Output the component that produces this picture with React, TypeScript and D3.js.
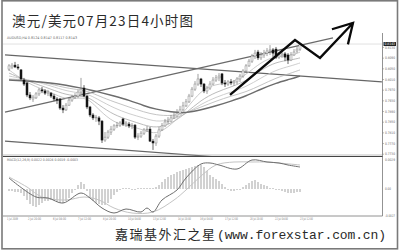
import React from "react";
import * as d3 from "d3";

// AUD/USD 4-hour candles
const opens = [
  0.8049, 0.8057, 0.8064, 0.8057, 0.8046, 0.8008, 0.7997, 0.7952, 0.7937, 0.7941,
  0.7956, 0.7971, 0.7967, 0.7959, 0.7959, 0.7948, 0.7937, 0.7937, 0.7903, 0.7896,
  0.7914, 0.7933, 0.7944, 0.7948, 0.7963, 0.7978, 0.7948, 0.7907, 0.7877, 0.7866,
  0.7866, 0.7854, 0.7783, 0.7794, 0.7813, 0.7824, 0.7836, 0.7839, 0.7862, 0.7843,
  0.7843, 0.7836, 0.7839, 0.7794, 0.7798, 0.7809, 0.7821, 0.7824, 0.7779, 0.7772,
  0.7798, 0.7821, 0.7836, 0.7851, 0.7854, 0.7866, 0.7873, 0.7884, 0.7896, 0.7911,
  0.7926, 0.7948, 0.7974, 0.7993, 0.8012, 0.7993, 0.7967, 0.7978, 0.7993, 0.8008,
  0.8016, 0.8031, 0.7997, 0.7993, 0.8001, 0.7997, 0.8001, 0.8012, 0.8023, 0.8042,
  0.8061, 0.8079, 0.8098, 0.8113, 0.8091, 0.8102, 0.8109, 0.8117, 0.8121, 0.8124,
  0.8094, 0.8102, 0.8106, 0.8102, 0.8083, 0.8102, 0.8117, 0.8124,
];
const highs = [
  0.8068, 0.8072, 0.8076, 0.8068, 0.8049, 0.8016, 0.8001, 0.7963, 0.7952, 0.7963,
  0.7978, 0.7982, 0.7974, 0.7971, 0.7963, 0.7956, 0.7944, 0.7941, 0.7914, 0.7922,
  0.7944, 0.7952, 0.7959, 0.7971, 0.8016, 0.7989, 0.7952, 0.7911, 0.7884, 0.7877,
  0.7873, 0.7858, 0.7813, 0.7821, 0.7836, 0.7843, 0.7851, 0.7854, 0.7866, 0.7854,
  0.7851, 0.7847, 0.7843, 0.7809, 0.7817, 0.7828, 0.7836, 0.7832, 0.7787, 0.7806,
  0.7832, 0.7847, 0.7862, 0.7869, 0.7877, 0.7888, 0.7899, 0.7911, 0.7926, 0.7937,
  0.7956, 0.7982, 0.8004, 0.8031, 0.8016, 0.7997, 0.7986, 0.8004, 0.8019, 0.8027,
  0.8034, 0.8034, 0.8008, 0.8008, 0.8012, 0.8008, 0.8019, 0.8031, 0.8049, 0.8068,
  0.8087, 0.8106, 0.8121, 0.8121, 0.8113, 0.8121, 0.8128, 0.8139, 0.8128, 0.8132,
  0.8113, 0.8117, 0.8113, 0.8109, 0.8113, 0.8124, 0.8136, 0.8147,
];
const lows = [
  0.8042, 0.8049, 0.8053, 0.8046, 0.8008, 0.7986, 0.7944, 0.7933, 0.7926, 0.7937,
  0.7948, 0.7959, 0.7952, 0.7948, 0.7941, 0.7929, 0.7918, 0.7896, 0.7884, 0.7892,
  0.7911, 0.7926, 0.7937, 0.7941, 0.7956, 0.7944, 0.7899, 0.7869, 0.7858, 0.7851,
  0.7839, 0.7772, 0.7776, 0.7787, 0.7802, 0.7817, 0.7828, 0.7832, 0.7836, 0.7832,
  0.7828, 0.7824, 0.7787, 0.7783, 0.7791, 0.7802, 0.7813, 0.7776, 0.7746, 0.7761,
  0.7791, 0.7817, 0.7832, 0.7843, 0.7851, 0.7862, 0.7869, 0.7881, 0.7892, 0.7907,
  0.7922, 0.7944, 0.7967, 0.7986, 0.7982, 0.7959, 0.7956, 0.7971, 0.7989, 0.8001,
  0.8004, 0.7989, 0.7982, 0.7986, 0.7989, 0.7986, 0.7993, 0.8001, 0.8016, 0.8034,
  0.8057, 0.8072, 0.8087, 0.8083, 0.8083, 0.8091, 0.8098, 0.8102, 0.8094, 0.8087,
  0.8087, 0.8091, 0.8079, 0.8068, 0.8079, 0.8098, 0.8109, 0.8117,
];
const closes = [
  0.8061, 0.8064, 0.8057, 0.8053, 0.8012, 0.7993, 0.7952, 0.7941, 0.7944, 0.7956,
  0.7971, 0.7967, 0.7959, 0.7963, 0.7948, 0.7937, 0.7933, 0.7903, 0.7896, 0.7914,
  0.7933, 0.7944, 0.7948, 0.7963, 0.7974, 0.7948, 0.7907, 0.7877, 0.7866, 0.7869,
  0.7854, 0.7783, 0.7794, 0.7813, 0.7824, 0.7836, 0.7839, 0.7847, 0.7843, 0.7847,
  0.7836, 0.7839, 0.7794, 0.7798, 0.7809, 0.7821, 0.7824, 0.7779, 0.7772, 0.7798,
  0.7821, 0.7836, 0.7851, 0.7854, 0.7866, 0.7873, 0.7884, 0.7896, 0.7911, 0.7926,
  0.7948, 0.7974, 0.7993, 0.8012, 0.7993, 0.7967, 0.7978, 0.7993, 0.8008, 0.8016,
  0.8023, 0.7997, 0.7993, 0.8001, 0.7997, 0.8001, 0.8012, 0.8023, 0.8042, 0.8061,
  0.8079, 0.8098, 0.8109, 0.8091, 0.8102, 0.8109, 0.8117, 0.8121, 0.8109, 0.8094,
  0.8102, 0.8106, 0.8094, 0.8083, 0.8102, 0.8113, 0.8124, 0.8143,
];

// moving-average ribbon, sampled at candle indices
const maIndex = [0, 7, 14, 19, 24, 27, 30, 35, 40, 45, 49, 54, 59, 64, 69, 74, 79, 84, 89, 94, 97];
const maFast = [0.8046, 0.7989, 0.7963, 0.7933, 0.7944, 0.7933, 0.7896, 0.7847, 0.7836, 0.7821, 0.7802, 0.7839, 0.7896, 0.7971, 0.7993, 0.7997, 0.8027, 0.8076, 0.8098, 0.8098, 0.8113];
const maMid1 = [0.8034, 0.8001, 0.7974, 0.7952, 0.7948, 0.7941, 0.7914, 0.7877, 0.7858, 0.7839, 0.7828, 0.7843, 0.7884, 0.7933, 0.7963, 0.7982, 0.8004, 0.8046, 0.8076, 0.8083, 0.8091];
const maMid2 = [0.8023, 0.8008, 0.7986, 0.7967, 0.7959, 0.7952, 0.7933, 0.7903, 0.7881, 0.7866, 0.7851, 0.7858, 0.7881, 0.7918, 0.7944, 0.7963, 0.7982, 0.8016, 0.8046, 0.8061, 0.8072];
const maSlow = [0.8012, 0.8008, 0.7993, 0.7978, 0.7971, 0.7963, 0.7948, 0.7926, 0.7907, 0.7888, 0.7877, 0.7873, 0.7884, 0.7907, 0.7929, 0.7948, 0.7963, 0.7989, 0.8016, 0.8034, 0.8046];
const maLong = [0.8008, 0.8004, 0.7997, 0.7989, 0.7978, 0.7971, 0.7963, 0.7948, 0.7933, 0.7911, 0.7899, 0.7888, 0.7884, 0.7896, 0.7911, 0.7929, 0.7948, 0.7974, 0.7997, 0.8012, 0.8023];

// drawn trend lines: [candle index, price]
const upperChannel = [[-1.33, 0.8102], [124.3, 0.8001]];
const lowerChannel = [[-1.33, 0.7779], [70, 0.7719]];
const risingLine = [[-1.33, 0.7888], [108, 0.8166]];
const arrowPath = [[73.67, 0.7952], [95.33, 0.8158], [103.67, 0.8091], [114.67, 0.8222]];

// MACD(12,26,9)
const macdHist = [
  -0.0002, -0.0002, -0.0003, -0.0003, -0.0004, -0.0007, -0.0011, -0.0015, -0.0017, -0.0018,
  -0.0016, -0.0014, -0.0012, -0.0012, -0.0011, -0.0012, -0.0013, -0.0014, -0.0014, -0.0012,
  -0.0009, -0.0004, -0.0001, 0.0004, 0.0007, 0.0005, -0.0002, -0.0008, -0.0012, -0.0014,
  -0.0015, -0.0016, -0.0016, -0.0014, -0.001, -0.0006, -0.0003, -0.0001, 0.0001, 0.0001,
  0.0001, -0.0001, -0.0001, 0.0001, 0.0001, 0.0001, 0.0001, 0.0001, 0.0001, 0.0002,
  0.0004, 0.0007, 0.001, 0.0012, 0.0014, 0.0015, 0.0017, 0.0018, 0.0019, 0.002,
  0.0021, 0.0022, 0.0023, 0.0024, 0.0024, 0.0022, 0.0018, 0.0014, 0.0012, 0.001,
  0.0008, 0.0005, 0.0002, -0.0001, -0.0002, -0.0002, -0.0001, -0.0001, 0.0002, 0.0004,
  0.0006, 0.0008, 0.0009, 0.0007, 0.0005, 0.0004, 0.0003, 0.0001, 0.0001, -0.0001,
  -0.0001, -0.0002, -0.0003, -0.0004, -0.0004, -0.0004, -0.0003, -0.0003,
];
const macdIndex = [0, 9, 13, 18, 24, 27, 31, 35, 39, 44, 46, 48, 51, 56, 59, 64, 67, 70, 76, 81, 86, 90, 93, 97];
const macdMain = [0.0011, -0.0008, -0.0009, -0.0014, -0.0004, -0.0009, -0.0019, -0.0024, -0.002, -0.0023, -0.0019, -0.0023, -0.0011, -0.0001, 0.0011, 0.0025, 0.0026, 0.0024, 0.002, 0.0029, 0.0027, 0.0026, 0.0024, 0.0022];
const signalIndex = [0, 6, 11, 19, 25, 30, 35, 41, 48, 55, 59, 64, 69, 75, 81, 86, 90, 97];
const macdSignal = [0.0012, 0.0002, -0.0008, -0.0011, -0.0008, -0.0011, -0.0019, -0.0024, -0.0023, -0.0011, -0.0001, 0.0013, 0.0024, 0.0027, 0.0027, 0.0027, 0.0026, 0.0024];

const priceTicks = [0.813, 0.809, 0.805, 0.801, 0.797, 0.793, 0.789, 0.785, 0.781, 0.777, 0.773];
const macdTicks = [0.0029, 0, -0.0027];
const timeLabels = [
  "1 Jul 2009", "2 Jul 20:00", "6 Jul 04:00", "7 Jul 12:00", "8 Jul 20:00", "10 Jul 04:00",
  "13 Jul 12:00", "14 Jul 20:00", "16 Jul 04:00", "17 Jul 12:00", "20 Jul 20:00", "22 Jul 04:00", "23 Jul 12:00",
];
const timeLabelIndex = [-0.67, 6.33, 14.67, 23, 31.33, 39.67, 48, 56.33, 63.67, 72, 80.33, 88.67, 97];

const TINY = "DejaVu Sans, sans-serif";
const CJK = "'Noto Sans CJK SC', sans-serif";

export default function App() {
  const x = d3.scaleLinear().domain([0, 97]).range([9, 300]);
  const y = d3.scaleLinear().domain([0.773, 0.813]).range([154.2, 47.5]);
  const ym = d3.scaleLinear().domain([-0.0027, 0.0029]).range([216, 160]);

  const ma = (vals: number[]) =>
    d3.line<number>().x((_, k) => x(maIndex[k])).y((v) => y(v)).curve(d3.curveBasis)(vals) || "";
  const seg = (pts: number[][]) =>
    d3.line<number[]>().x((p) => x(p[0])).y((p) => y(p[1]))(pts) || "";
  const mLine = (idx: number[], vals: number[]) =>
    d3.line<number>().x((_, k) => x(idx[k])).y((v) => ym(v)).curve(d3.curveCatmullRom)(vals) || "";

  // arrow head from the last leg of the arrow path
  const n = arrowPath.length;
  const tx = x(arrowPath[n - 1][0]), ty = y(arrowPath[n - 1][1]);
  const px = x(arrowPath[n - 2][0]), py = y(arrowPath[n - 2][1]);
  const ang = Math.atan2(py - ty, px - tx);
  const headLen = 22, spread = Math.PI / 6;
  const h1 = [tx + headLen * Math.cos(ang + spread), ty + headLen * Math.sin(ang + spread)];
  const h2 = [tx + headLen * Math.cos(ang - spread), ty + headLen * Math.sin(ang - spread)];

  const axisX = 382.5;

  return (
    <div style={{ position: "fixed", left: 0, top: 0 }}>
      <svg width={400} height={252} style={{ display: "block", background: "#fff" }}>
        <defs>
          <clipPath id="pricePane">
            <rect x={3} y={28} width={axisX - 3} height={156 - 28} />
          </clipPath>
        </defs>

        {/* title */}
        <text x={12} y={26} fontFamily={CJK} fontSize={13.5} fill="#2a2a2a"
          textLength={181} lengthAdjust="spacing">澳元/美元07月23日4小时图</text>

        {/* chart header */}
        <text x={7} y={38.5} fontFamily={TINY} fontSize={3.6} fill="#666"
          textLength={70} lengthAdjust="spacingAndGlyphs">AUDUSD,H4  0.8124 0.8147 0.8117 0.8143</text>

        {/* bid line */}
        <line x1={3} x2={axisX} y1={y(closes[closes.length - 1])} y2={y(closes[closes.length - 1])}
          stroke="#d4d4d4" strokeWidth={0.7} />

        <g clipPath="url(#pricePane)">
          {/* trend channel */}
          <path d={seg(upperChannel)} stroke="#666" strokeWidth={1.2} fill="none" />
          <path d={seg(lowerChannel)} stroke="#666" strokeWidth={1.2} fill="none" />
          <path d={seg(risingLine)} stroke="#6a6a6a" strokeWidth={1.2} fill="none" />

          {/* moving averages */}
          <path d={ma(maSlow)} stroke="#b5b5b5" strokeWidth={0.8} fill="none" />
          <path d={ma(maMid2)} stroke="#c2c2c2" strokeWidth={0.8} fill="none" />
          <path d={ma(maMid1)} stroke="#a9a9a9" strokeWidth={0.8} fill="none" />
          <path d={ma(maFast)} stroke="#bdbdbd" strokeWidth={0.8} fill="none" />
          <path d={ma(maLong)} stroke="#6c6c6c" strokeWidth={1.4} fill="none" />

          {/* candles */}
          {closes.map((c, i) => {
            const o = opens[i];
            const bull = c >= o;
            const top = y(Math.max(o, c));
            const bot = y(Math.min(o, c));
            const cx = x(i);
            return (
              <g key={i}>
                <line x1={cx} x2={cx} y1={y(highs[i])} y2={y(lows[i])} stroke={bull ? "#777" : "#222"} strokeWidth={0.7} />
                <rect x={cx - 1} y={top} width={2} height={Math.max(0.8, bot - top)}
                  fill={bull ? "#f4f4f4" : "#151515"} stroke={bull ? "#888" : "#151515"} strokeWidth={0.5} />
              </g>
            );
          })}
        </g>

        {/* hand-drawn arrow */}
        <path d={seg(arrowPath)} stroke="#0a0a0a" strokeWidth={2.3} fill="none" strokeLinejoin="miter" />
        <path d={`M${h1[0]},${h1[1]}L${tx},${ty}L${h2[0]},${h2[1]}`} stroke="#0a0a0a" strokeWidth={2.3} fill="none" />

        {/* price axis */}
        <line x1={axisX} x2={axisX} y1={33} y2={216} stroke="#777" strokeWidth={0.8} />
        {priceTicks.map((t) => (
          <g key={t}>
            <line x1={axisX} x2={axisX + 1.5} y1={y(t)} y2={y(t)} stroke="#777" strokeWidth={0.5} />
            <text x={385} y={y(t) + 1.2} fontFamily={TINY} fontSize={3.4} fill="#666"
              textLength={10} lengthAdjust="spacingAndGlyphs">{t.toFixed(4)}</text>
          </g>
        ))}
        <rect x={383.5} y={y(closes[closes.length - 1]) - 2} width={12.5} height={4} fill="#222" />
        <text x={384.5} y={y(closes[closes.length - 1]) + 1.2} fontFamily={TINY} fontSize={3.4} fill="#fff"
          textLength={10.5} lengthAdjust="spacingAndGlyphs">{closes[closes.length - 1].toFixed(4)}</text>

        {/* pane separator */}
        <line x1={3} x2={axisX} y1={155} y2={155} stroke="#999" strokeWidth={0.6} />
        <line x1={3} x2={axisX} y1={156.5} y2={156.5} stroke="#444" strokeWidth={1.2} />

        {/* MACD pane */}
        <text x={7} y={161} fontFamily={TINY} fontSize={3.4} fill="#666"
          textLength={71} lengthAdjust="spacingAndGlyphs">MACD(12,26,9) 0.0022 0.0024 0.0019 -0.0003</text>
        {macdHist.map((v, i) => (
          <line key={i} x1={x(i)} x2={x(i)} y1={ym(0)} y2={ym(v)} stroke="#9a9a9a" strokeWidth={0.9} />
        ))}
        <path d={mLine(signalIndex, macdSignal)} stroke="#c4c4c4" strokeWidth={1} fill="none" />
        <path d={mLine(macdIndex, macdMain)} stroke="#6e6e6e" strokeWidth={1} fill="none" />
        {macdTicks.map((t) => (
          <text key={t} x={385} y={ym(t) + 1.2} fontFamily={TINY} fontSize={3.4} fill="#666"
            textLength={t === 0 ? 6 : 10} lengthAdjust="spacingAndGlyphs">{t === 0 ? "0.00" : t.toFixed(4)}</text>
        ))}

        {/* time axis */}
        <line x1={3} x2={axisX} y1={216} y2={216} stroke="#777" strokeWidth={0.8} />
        {timeLabels.map((s, k) => (
          <text key={s} x={x(timeLabelIndex[k])} y={220} fontFamily={TINY} fontSize={3.4} fill="#777"
            textLength={k === 0 ? 11 : 13} lengthAdjust="spacingAndGlyphs">{s}</text>
        ))}

        {/* footer */}
        <text x={115} y={239} fontFamily={CJK} fontSize={13} fill="#2a2a2a"
          textLength={100} lengthAdjust="spacing">嘉瑞基外汇之星</text>
        <text x={217} y={239} fontFamily="'Liberation Mono', monospace" fontSize={13} fill="#2a2a2a"
          textLength={169} lengthAdjust="spacing">(www.forexstar.com.cn)</text>

        {/* outer frame */}
        <rect x={2} y={0.8} width={395.5} height={248} fill="none" stroke="#7a7a7a" strokeWidth={1.6} />
      </svg>
    </div>
  );
}
